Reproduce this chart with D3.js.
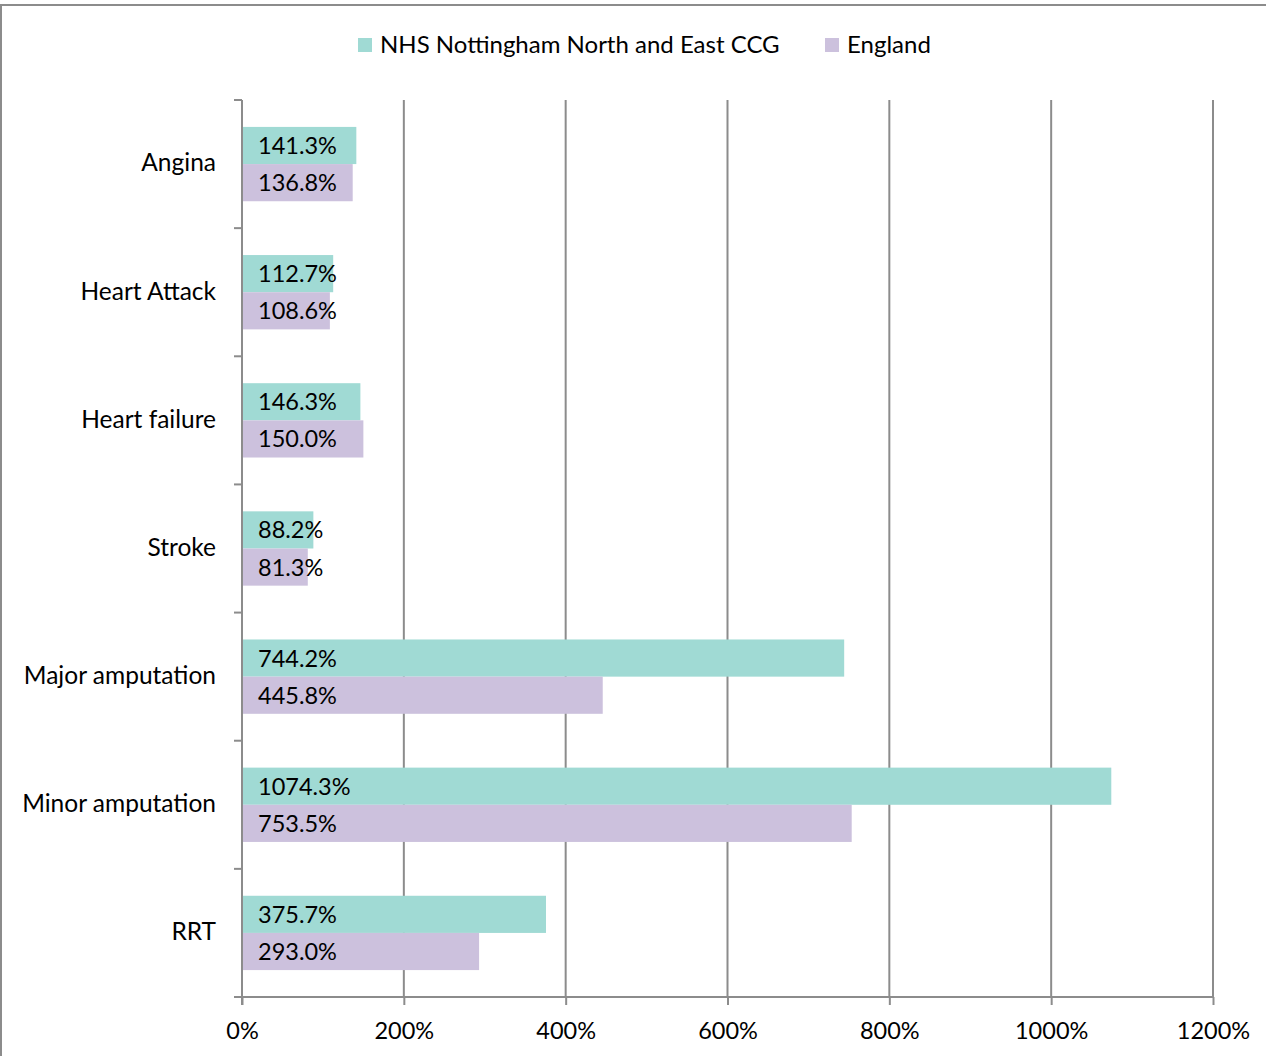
<!DOCTYPE html>
<html><head><meta charset="utf-8">
<script src="https://cdn.jsdelivr.net/npm/d3@7"></script>
<style>body{margin:0;background:#fff;} text{font-family:Lato, "Open Sans", sans-serif;}</style>
</head><body>
<svg id="chart" width="1266" height="1056"></svg>
<script>
const categories = ["Angina","Heart Attack","Heart failure","Stroke","Major amputation","Minor amputation","RRT"];
const seriesNames = ["NHS Nottingham North and East CCG","England"];
const ccgValues = [141.3,112.7,146.3,88.2,744.2,1074.3,375.7];
const englandValues = [136.8,108.6,150.0,81.3,445.8,753.5,293.0];
const xTicks = [0,200,400,600,800,1000,1200];
const colors = ["#a0dad4","#ccc1dd"];

const svg = d3.select("#chart");
// outer border
svg.append("rect").attr("x",1).attr("y",5).attr("width",1280).attr("height",1100)
  .attr("fill","none").attr("stroke","#8c8c8c").attr("stroke-width",2);

const m = {left:242, right:1213, top:100, bottom:997};
const x = d3.scaleLinear().domain([0,1200]).range([m.left,m.right]);
const y = d3.scaleBand().domain(categories).range([m.top,m.bottom]).paddingInner(0.42).paddingOuter(0.21);
const y1 = d3.scaleBand().domain(seriesNames).range([0,y.bandwidth()]);
const gridColor = "#8c8c8c";

// gridlines
svg.append("g").selectAll("line").data(xTicks.slice(1)).join("line")
  .attr("x1",d=>x(d)).attr("x2",d=>x(d)).attr("y1",m.top).attr("y2",m.bottom)
  .attr("stroke",gridColor).attr("stroke-width",2);

// bars
const data = categories.map((c,i)=>({c, vals:[ccgValues[i],englandValues[i]]}));
const groups = svg.append("g").selectAll("g").data(data).join("g")
  .attr("transform",d=>`translate(0,${y(d.c)})`);
groups.selectAll("rect").data(d=>d.vals.map((v,j)=>({v,s:seriesNames[j],j}))).join("rect")
  .attr("x",x(0)).attr("y",d=>y1(d.s)).attr("width",d=>x(d.v)-x(0)).attr("height",y1.bandwidth())
  .attr("fill",d=>colors[d.j]);
groups.selectAll("text").data(d=>d.vals.map((v,j)=>({v,s:seriesNames[j],j}))).join("text")
  .attr("x",x(0)+16).attr("y",d=>y1(d.s)+y1.bandwidth()/2).attr("dy","0.36em")
  .attr("font-size",23.5).attr("fill","#000").text(d=>d.v.toFixed(1)+"%");

// x axis
const xAxis = d3.axisBottom(x).tickValues(xTicks).tickFormat(d=>d+"%").tickSize(8).tickPadding(17);
const gx = svg.append("g").attr("transform",`translate(0,${m.bottom})`).call(xAxis);
gx.select(".domain").attr("d",`M${m.left-8},0H${m.right}`).attr("stroke",gridColor).attr("stroke-width",2);
gx.selectAll(".tick line").attr("stroke",gridColor).attr("stroke-width",2);
gx.selectAll(".tick text").attr("font-size",23.5).attr("fill","#000").attr("font-family","Lato, 'Open Sans', sans-serif");

// y axis: domain + category boundary ticks
const yAxisG = svg.append("g");
yAxisG.append("line").attr("x1",m.left).attr("x2",m.left).attr("y1",m.top).attr("y2",m.bottom+8)
  .attr("stroke",gridColor).attr("stroke-width",2);
const edges = categories.map((c,i)=>m.top + i*(m.bottom-m.top)/categories.length);
yAxisG.selectAll("line.t").data(edges).join("line").attr("class","t")
  .attr("x1",m.left-8).attr("x2",m.left).attr("y1",d=>d).attr("y2",d=>d)
  .attr("stroke",gridColor).attr("stroke-width",2);
yAxisG.selectAll("text").data(categories).join("text")
  .attr("x",216).attr("y",d=>y(d)+y.bandwidth()/2).attr("dy","0.3em")
  .attr("text-anchor","end").attr("font-size",24.5).attr("fill","#000").text(d=>d);

// legend
const legendX = [358,825];
const lg = svg.append("g").selectAll("g").data(seriesNames).join("g")
  .attr("transform",(d,i)=>`translate(${legendX[i]},38)`);
lg.append("rect").attr("width",14).attr("height",14).attr("fill",(d,i)=>colors[i]);
lg.append("text").attr("x",22).attr("y",7).attr("dy","0.33em").attr("font-size",24).attr("fill","#000").text(d=>d);
</script>
</body></html>
